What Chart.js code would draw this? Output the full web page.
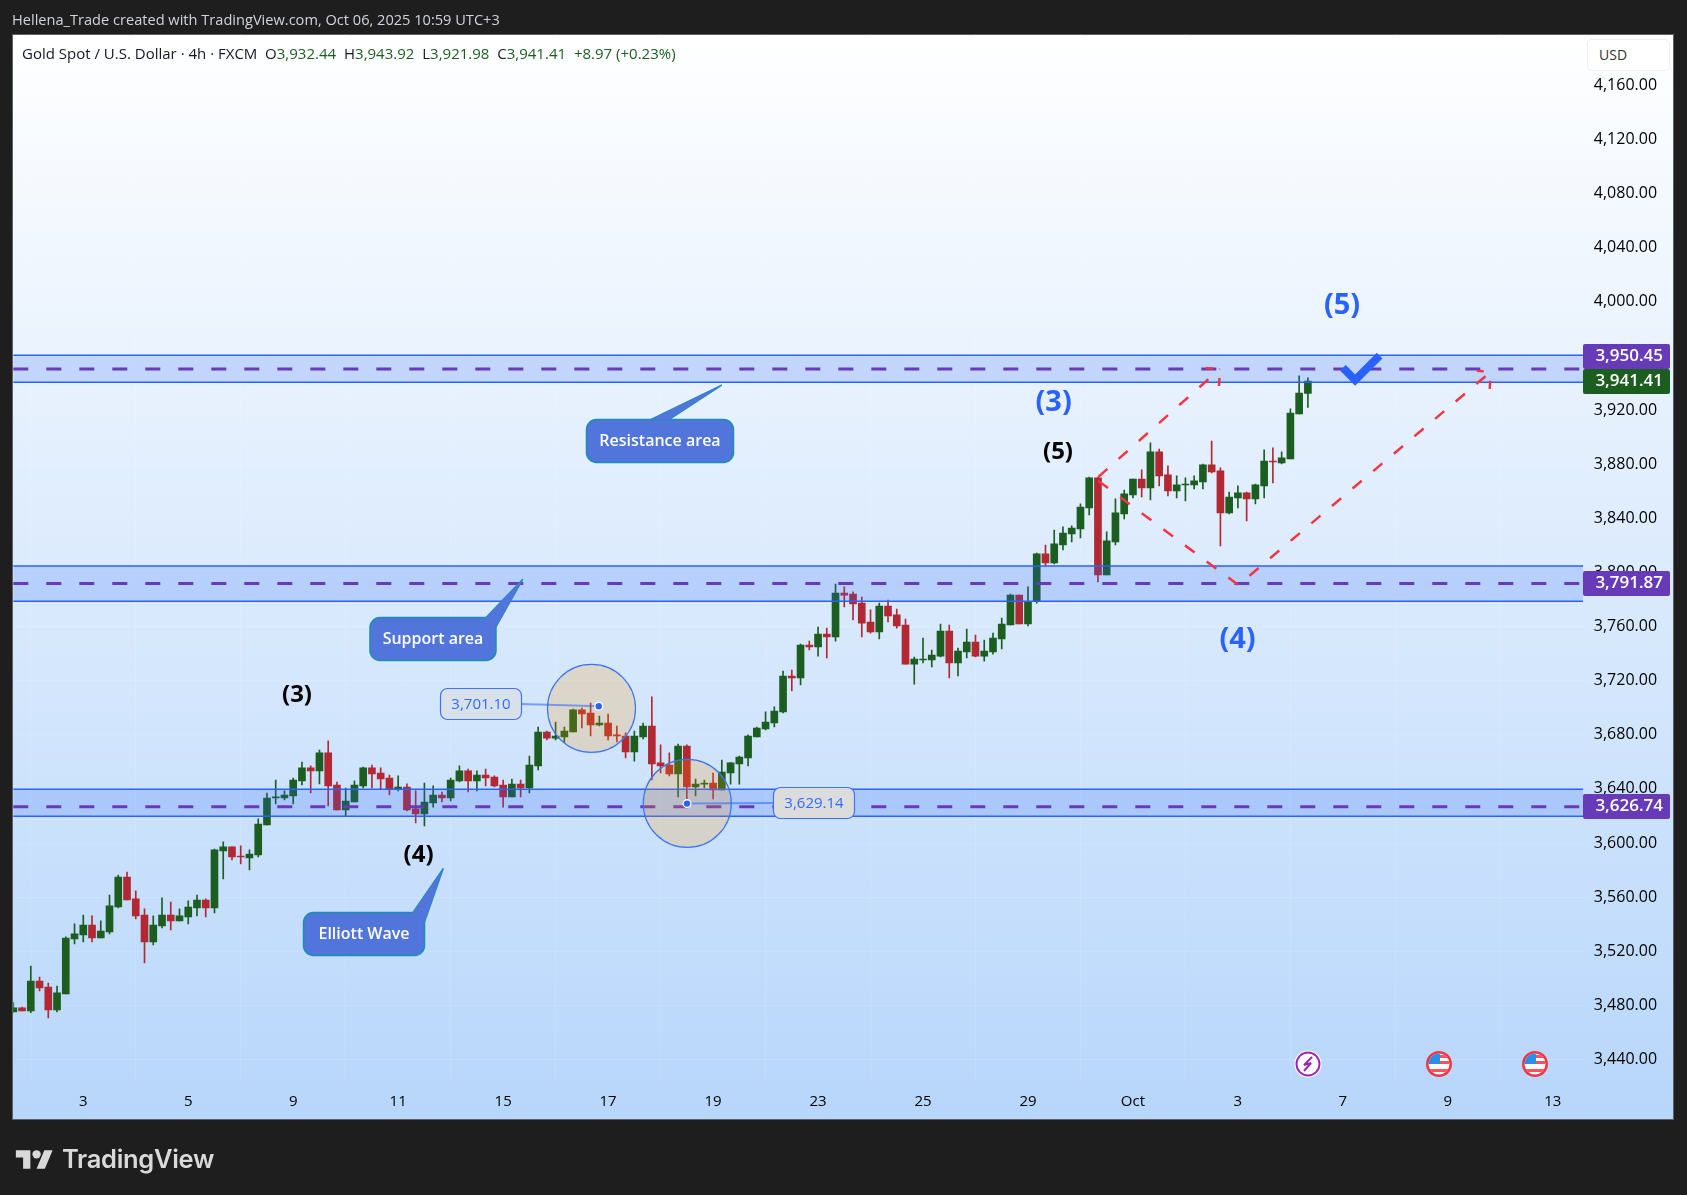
<!DOCTYPE html>
<html>
<head>
<meta charset="utf-8">
<title>Gold Spot / U.S. Dollar</title>
<script src="https://cdn.jsdelivr.net/npm/chart.js@4"></script>
<style>
  html, body { margin: 0; padding: 0; background: #1e1e1e; }
  #wrap { position: relative; width: 1687px; height: 1195px; overflow: hidden; }
  canvas { position: absolute; left: 0; top: 0; }
  .txt { position: absolute; white-space: nowrap; font-family: "Open Sans", sans-serif; }
  #credit { left: 12px; top: 9px; font-size: 14.6px; color: #d1d4dc; }
  #legend { left: 22px; top: 43px; font-size: 15px; color: #131722; }
  #legend b { font-weight: 400; color: #1b5e20; margin-right: 4px; }
  #usd { left: 1587px; top: 39px; width: 70px; height: 30px; line-height: 30px; padding-left: 11px; font-size: 14px; color: #333;
         background: #fff; border: 1px solid #eee; border-radius: 5px; }
  #logo { left: 15px; top: 1146px; }
  #brand { left: 62px; top: 1143px; font-family: Inter, sans-serif; font-weight: 600; font-size: 25.5px; letter-spacing: -0.3px; color: #d9d9d9; }
</style>
</head>
<body>
<div id="wrap">
  <canvas id="chart" width="1687" height="1195"></canvas>
  <div class="txt" id="credit">Hellena_Trade created with TradingView.com, Oct 06, 2025 10:59 UTC+3</div>
  <div class="txt" id="legend">Gold Spot / U.S. Dollar · 4h · FXCM &nbsp;O<b>3,932.44</b> H<b>3,943.92</b> L<b>3,921.98</b> C<b>3,941.41</b> <b>+8.97 (+0.23%)</b></div>
  <div class="txt" id="usd">USD</div>
  <svg class="txt" id="logo" width="39" height="29" viewBox="0 0 36 28" fill="#d9d9d9"><path d="M14 22H7V11H0V4h14v18zM28 22h-8l7.5-18h8L28 22z"/><circle cx="20" cy="8" r="4"/></svg>
  <div class="txt" id="brand">TradingView</div>
</div>
<script>
const candleOpen = [3475.1,3478.1,3475.9,3498.0,3493.6,3476.6,3488.4,3529.1,3532.0,3539.4,3529.8,3534.3,3552.7,3574.9,3558.7,3546.8,3526.9,3538.7,3546.8,3542.4,
  3545.3,3552.0,3557.9,3552.0,3594.1,3597.1,3590.4,3589.0,3591.2,3613.4,3633.3,3633.3,3634.8,3645.9,3655.5,3653.3,3666.6,3642.9,3624.4,3630.4,
  3642.2,3655.5,3651.8,3648.1,3640.0,3641.4,3625.2,3621.5,3629.6,3635.5,3633.3,3645.9,3653.3,3645.9,3650.3,3648.8,3642.9,3634.0,3643.6,3640.7,
  3657.0,3682.1,3677.6,3678.4,3682.1,3698.4,3696.1,3687.3,3688.7,3679.9,3679.1,3667.3,3678.4,3686.5,3659.2,3657.7,3651.0,3671.7,3641.4,3643.6,
  3644.4,3639.2,3651.8,3658.4,3662.9,3678.4,3684.3,3688.7,3696.9,3723.5,3722.0,3746.4,3744.9,3754.5,3752.3,3784.8,3784.1,3777.4,3763.4,3756.0,
  3775.2,3768.6,3761.2,3732.3,3735.3,3735.3,3738.2,3756.7,3733.1,3741.2,3748.6,3738.2,3741.2,3750.8,3761.2,3783.3,3761.9,3778.9,3813.7,3807.0,
  3820.3,3828.5,3832.2,3847.7,3869.9,3798.2,3822.6,3843.3,3857.3,3869.1,3862.5,3889.1,3872.1,3860.3,3864.7,3864.7,3866.9,3879.5,3875.1,3844.0,
  3855.1,3858.8,3854.4,3864.0,3882.4,3881.0,3883.9,3917.2,3932.44];
const candleHigh = [3482.0,3478.8,3509.1,3501.0,3496.5,3494.3,3530.6,3540.2,3546.8,3546.1,3542.4,3561.6,3576.4,3578.6,3564.6,3551.3,3546.1,3559.4,3556.4,3551.3,
  3557.2,3561.6,3558.7,3595.6,3600.8,3597.1,3597.9,3594.9,3617.8,3637.0,3646.6,3638.5,3648.1,3659.9,3657.0,3668.8,3675.5,3645.1,3640.7,3645.9,
  3656.2,3657.7,3655.5,3650.3,3649.6,3643.7,3638.5,3644.4,3642.2,3637.7,3648.1,3657.0,3654.7,3653.3,3654.7,3649.6,3646.6,3647.3,3646.6,3664.3,
  3685.8,3682.8,3689.5,3685.8,3699.1,3699.8,3703.5,3693.9,3695.4,3686.5,3681.4,3682.8,3688.7,3708.0,3672.5,3666.6,3673.2,3672.5,3647.3,3646.6,
  3651.8,3661.4,3659.7,3664.3,3679.9,3685.8,3696.9,3700.6,3727.2,3727.9,3747.1,3749.3,3759.7,3758.9,3791.5,3789.3,3785.6,3781.9,3772.3,3777.4,
  3779.6,3773.0,3765.6,3737.5,3751.5,3742.7,3761.9,3761.2,3744.2,3758.2,3753.8,3750.1,3755.2,3766.3,3784.1,3783.3,3789.3,3814.4,3820.3,3831.4,
  3833.7,3834.4,3850.7,3870.6,3870.6,3830.0,3854.4,3861.0,3869.1,3875.8,3895.8,3891.3,3878.8,3871.4,3869.9,3871.4,3880.2,3897.2,3877.3,3859.5,
  3864.0,3859.5,3865.4,3890.6,3892.1,3889.1,3920.9,3945.3,3943.92];
const candleLow = [3474.9,3475.9,3474.6,3490.6,3470.7,3475.1,3488.4,3525.4,3526.9,3526.9,3529.8,3532.8,3552.0,3557.9,3543.9,3511.3,3524.6,3537.2,3535.7,3542.4,
  3540.2,3546.1,3545.3,3548.3,3573.4,3587.5,3584.5,3580.1,3589.7,3613.4,3628.9,3631.9,3628.9,3642.9,3637.0,3643.7,3627.4,3624.4,3620.0,3630.4,
  3640.7,3640.7,3639.7,3635.5,3638.5,3623.7,3614.8,3612.6,3626.6,3630.3,3631.1,3645.1,3637.7,3638.5,3642.2,3641.4,3626.6,3634.0,3634.0,3637.0,
  3654.0,3676.2,3676.2,3674.7,3682.1,3685.0,3679.1,3686.5,3676.2,3674.7,3662.9,3660.6,3676.9,3646.6,3651.8,3649.6,3634.0,3629.6,3634.8,3640.7,
  3632.6,3639.2,3643.6,3643.6,3657.0,3678.4,3683.6,3685.8,3696.1,3712.4,3716.8,3742.7,3738.2,3736.8,3749.3,3774.5,3764.9,3752.3,3755.2,3750.8,
  3763.4,3758.9,3732.3,3717.5,3733.1,3730.1,3737.5,3722.0,3723.5,3736.8,3737.5,3734.5,3739.7,3743.4,3761.2,3761.9,3760.4,3777.4,3804.8,3806.3,
  3816.7,3822.6,3825.5,3842.5,3793.0,3798.2,3820.3,3839.6,3855.1,3855.8,3853.6,3864.0,3856.6,3855.1,3852.9,3861.7,3861.7,3873.6,3819.6,3843.3,
  3847.7,3838.1,3850.7,3855.1,3866.2,3880.2,3883.9,3917.2,3921.98];
const candleClose = [3478.1,3475.9,3498.0,3492.9,3476.6,3489.2,3529.8,3532.8,3539.4,3529.8,3535.0,3553.5,3574.9,3557.9,3546.1,3526.9,3539.4,3546.8,3542.4,3546.1,
  3552.7,3557.9,3552.0,3594.9,3597.1,3589.7,3589.7,3591.9,3614.1,3633.3,3634.1,3635.5,3646.6,3655.5,3653.3,3666.6,3642.2,3624.4,3631.1,3642.9,
  3655.5,3651.1,3647.4,3640.0,3641.4,3624.4,3621.5,3630.3,3635.5,3633.3,3646.6,3653.3,3645.9,3650.3,3648.1,3642.2,3634.0,3643.6,3640.7,3657.7,
  3682.1,3677.6,3679.1,3682.8,3698.4,3695.4,3687.3,3688.7,3679.1,3679.1,3667.3,3679.1,3686.5,3658.4,3657.0,3651.0,3671.7,3641.4,3643.6,3644.4,
  3639.2,3652.5,3659.2,3663.6,3679.1,3685.0,3689.5,3697.6,3723.5,3722.0,3746.4,3744.9,3754.5,3752.3,3784.8,3783.3,3776.7,3762.6,3756.0,3775.2,
  3767.8,3760.4,3732.3,3736.0,3736.0,3739.0,3756.7,3733.1,3741.9,3748.6,3738.2,3741.9,3751.5,3761.9,3783.3,3761.9,3778.2,3813.7,3807.0,3821.1,
  3829.2,3832.9,3848.4,3869.9,3798.2,3823.3,3844.0,3858.1,3869.1,3862.5,3889.1,3871.4,3860.3,3864.7,3865.4,3867.7,3879.5,3874.3,3844.0,3855.8,
  3858.8,3854.4,3864.7,3882.4,3881.7,3884.7,3917.9,3932.7,3941.41];

// 4h slots on the time axis, the chart runs on past the last candle
const slots = Array.from({ length: 181 }, (_, i) => i);
const dayTickSlots = [8, 20, 32, 44, 56, 68, 80, 92, 104, 116, 128, 140, 152, 164, 176];
const dayTickLabels = ['3', '5', '9', '11', '15', '17', '19', '23', '25', '29', 'Oct', '3', '7', '9', '13'];
const priceTicks = [4160, 4120, 4080, 4040, 4000, 3960, 3920, 3880, 3840, 3800, 3760, 3720, 3680, 3640, 3600, 3560, 3520, 3480, 3440];

const zoneTops = [3960.55, 3804.75, 3639.75];
const zoneBottoms = [3940.55, 3778.65, 3619.75];
const zoneLevels = [3950.45, 3791.87, 3626.74];

const GREEN = '#1b5e20';
const RED = '#b22833';
const BLUE = '#2962ff';
const PURPLE = '#673ab7';

const fmt = v => v.toLocaleString('en-US', { minimumFractionDigits: 2, maximumFractionDigits: 2 });
const candleColor = ctx => candleClose[ctx.dataIndex] >= candleOpen[ctx.dataIndex] ? GREEN : RED;

function roundBox(c, x, y, w, h, r) {
  c.beginPath();
  c.roundRect(x, y, w, h, r);
}

function drawFlag(c, cx, cy) {
  c.save();
  c.beginPath(); c.arc(cx, cy, 13, 0, Math.PI * 2); c.fillStyle = '#f23645'; c.fill();
  c.beginPath(); c.arc(cx, cy, 10.5, 0, Math.PI * 2); c.fillStyle = '#fff'; c.fill(); c.clip();
  c.fillStyle = '#f7525f';
  c.fillRect(cx - 11, cy - 3, 22, 3);
  c.fillRect(cx - 11, cy + 5, 22, 3);
  c.fillRect(cx + 1, cy - 9, 11, 3);
  c.fillStyle = '#2a8fe8';
  c.fillRect(cx - 11, cy - 11, 12, 11);
  c.restore();
}

function drawFlash(c, cx, cy) {
  c.beginPath(); c.arc(cx, cy, 13.5, 0, Math.PI * 2); c.fillStyle = '#fff'; c.fill();
  c.beginPath(); c.arc(cx, cy, 11.5, 0, Math.PI * 2); c.strokeStyle = '#9c27b0'; c.lineWidth = 2; c.stroke();
  c.beginPath();
  c.moveTo(cx + 4, cy - 7); c.lineTo(cx - 4, cy + 1); c.lineTo(cx + 3, cy - 1); c.lineTo(cx - 4, cy + 7);
  c.strokeStyle = '#9c27b0'; c.lineWidth = 2; c.stroke();
}

const panelPlugin = {
  id: 'panel',
  beforeDraw(chart) {
    const c = chart.ctx;
    const g = c.createLinearGradient(0, 34, 0, 1119);
    g.addColorStop(0, '#ffffff');
    g.addColorStop(1, '#b7d6fb');
    c.fillStyle = '#1e1e1e';
    c.fillRect(0, 0, 1687, 1195);
    c.fillStyle = g;
    c.fillRect(13, 34, 1660, 1086);
    c.strokeStyle = '#5d6167';
    c.lineWidth = 1;
    c.strokeRect(12.5, 34.5, 1661, 1085);
  }
};

const drawingsPlugin = {
  id: 'drawings',
  afterDatasetsDraw(chart) {
    const c = chart.ctx;
    const X = v => chart.scales.x.getPixelForValue(v);
    const Y = v => chart.scales.y.getPixelForValue(v);
    const zoneEnd = X(179.46);
    c.save();

    // support / resistance zones over the candles
    zoneLevels.forEach((lvl, i) => {
      const top = Y(zoneTops[i]), bot = Y(zoneBottoms[i]);
      c.fillStyle = 'rgba(41,98,255,0.2)';
      c.fillRect(X(0), top, zoneEnd - X(0), bot - top);
      c.strokeStyle = BLUE;
      c.lineWidth = 1.5;
      c.beginPath();
      c.moveTo(X(0), top); c.lineTo(zoneEnd, top);
      c.moveTo(X(0), bot); c.lineTo(zoneEnd, bot);
      c.stroke();
      c.strokeStyle = PURPLE;
      c.lineWidth = 3;
      c.setLineDash([15, 18]);
      c.beginPath();
      c.moveTo(X(0), Y(lvl)); c.lineTo(zoneEnd - 3, Y(lvl));
      c.stroke();
      c.setLineDash([]);
    });

    // circles round the swing high and low
    [[66.1, 3699.5], [77.05, 3629.3]].forEach(([i, p]) => {
      c.beginPath();
      c.arc(X(i), Y(p), 44, 0, Math.PI * 2);
      c.fillStyle = 'rgba(255,152,0,0.2)';
      c.fill();
      c.strokeStyle = '#3f74f0';
      c.lineWidth = 1.2;
      c.stroke();
    });

    // price notes
    [
      { i: 66.93, price: 3701.10, x: 440.5, y: 688.5, w: 81, h: 31, side: 'left' },
      { i: 77.02, price: 3629.14, x: 773.5, y: 787.5, w: 81, h: 31, side: 'right' }
    ].forEach(n => {
      const dx = X(n.i), dy = Y(n.price);
      c.strokeStyle = 'rgba(41,98,255,0.55)';
      c.lineWidth = 2;
      c.beginPath();
      c.moveTo(dx, dy);
      c.lineTo(n.side === 'left' ? n.x + n.w : n.x, n.y + n.h / 2);
      c.stroke();
      roundBox(c, n.x, n.y, n.w, n.h, 7);
      c.fillStyle = '#dcdcdc';
      c.globalAlpha = n.side === 'left' ? 0.6 : 1;
      c.fill();
      c.globalAlpha = 1;
      c.strokeStyle = '#3f74f0';
      c.lineWidth = 1.2;
      c.stroke();
      c.fillStyle = '#2f6bff';
      c.font = '15px "Open Sans"';
      c.textAlign = 'center';
      c.textBaseline = 'middle';
      c.fillText(fmt(n.price), n.x + n.w / 2, n.y + n.h / 2 + 1);
      c.beginPath(); c.arc(dx, dy, 4.5, 0, Math.PI * 2); c.fillStyle = '#fff'; c.fill();
      c.beginPath(); c.arc(dx, dy, 3.2, 0, Math.PI * 2); c.fillStyle = BLUE; c.fill();
    });

    // red zigzag of the wave count, with open arrow heads
    c.strokeStyle = '#f23645';
    c.lineWidth = 2.5;
    c.setLineDash([12, 15]);
    c.beginPath(); c.moveTo(X(124.05), Y(3870.7)); c.lineTo(X(137.95), Y(3950.4)); c.stroke();
    c.beginPath(); c.moveTo(X(124.05), Y(3867.7)); c.lineTo(X(140.05), Y(3790.7)); c.lineTo(X(168.9), Y(3948.3)); c.stroke();
    c.setLineDash([]);
    [[137.95, 3950.4], [168.9, 3948.3]].forEach(([i, p]) => {
      const tx = X(i), ty = Y(p);
      c.beginPath();
      c.moveTo(tx - 14, ty - 1); c.lineTo(tx - 7, ty - 0.5);
      c.moveTo(tx - 0.5, ty + 9); c.lineTo(tx - 1, ty + 17);
      c.stroke();
    });

    // check mark at the target
    c.strokeStyle = BLUE;
    c.lineWidth = 8;
    c.lineJoin = 'miter';
    c.beginPath();
    c.moveTo(X(152), Y(3951.3)); c.lineTo(X(153.4), Y(3942.2)); c.lineTo(X(156.2), Y(3960.3));
    c.stroke();

    // blue callouts
    c.lineJoin = 'bevel';
    [
      { text: 'Resistance area', x: 586.5, y: 419.5, w: 147, h: 43, a: [651, 419.5], b: [669, 419.5], i: 80.99, p: 3938.5 },
      { text: 'Support area', x: 370, y: 617.5, w: 126, h: 43, a: [486, 617.5], b: [496, 627], i: 58.24, p: 3795.0 },
      { text: 'Elliott Wave', x: 303.5, y: 912.5, w: 121, h: 43, a: [413, 912.5], b: [424.5, 922], i: 49.16, p: 3581.3 }
    ].forEach(n => {
      roundBox(c, n.x, n.y, n.w, n.h, 10);
      c.fillStyle = '#5175db';
      c.fill();
      c.strokeStyle = '#1a8fb5';
      c.lineWidth = 1.5;
      c.stroke();
      c.beginPath();
      c.moveTo(n.a[0], n.a[1]); c.lineTo(X(n.i), Y(n.p)); c.lineTo(n.b[0], n.b[1]);
      c.stroke();
      c.closePath();
      c.fill();
      c.fillStyle = '#fff';
      c.font = '600 16px "Open Sans"';
      c.textAlign = 'center';
      c.textBaseline = 'middle';
      c.fillText(n.text, n.x + n.w / 2, n.y + n.h / 2 + 0.5);
    });

    // wave count labels
    [
      ['(3)', 297, 695, '#000', 24], ['(4)', 418.6, 855, '#000', 24], ['(5)', 1058, 452, '#000', 24],
      ['(3)', 1053.6, 403, BLUE, 29], ['(5)', 1342, 306, BLUE, 29], ['(4)', 1237.5, 640, BLUE, 29]
    ].forEach(([t, x, y, col, size]) => {
      c.fillStyle = col;
      c.font = '700 ' + size + 'px "Open Sans"';
      c.textAlign = 'center';
      c.textBaseline = 'middle';
      c.fillText(t, x, y);
    });

    // event icons on the time line
    drawFlash(c, 1308, 1064);
    drawFlag(c, 1439, 1064);
    drawFlag(c, 1535, 1064);

    // price labels over the axis
    [
      { v: 3950.45, bg: PURPLE, top: 344 }, { v: 3941.41, bg: GREEN, top: 369 },
      { v: 3791.87, bg: PURPLE, top: 571 }, { v: 3626.74, bg: PURPLE, top: 794 }
    ].forEach(l => {
      roundBox(c, 1583, l.top, 87, 25, 2);
      c.fillStyle = l.bg;
      c.fill();
      c.fillStyle = '#fff';
      c.font = '600 17px "Open Sans"';
      c.textAlign = 'right';
      c.textBaseline = 'middle';
      c.fillText(fmt(l.v), 1663, l.top + 12.5);
    });
    c.restore();
  }
};

new Chart(document.getElementById('chart'), {
  type: 'bar',
  data: {
    labels: slots,
    datasets: [
      {
        label: 'Wick',
        data: candleLow.map((l, i) => [l, candleHigh[i]]),
        backgroundColor: candleColor,
        barThickness: 1,
        grouped: false
      },
      {
        label: 'Body',
        data: candleOpen.map((o, i) => [o, candleClose[i]]),
        backgroundColor: candleColor,
        barThickness: 7,
        grouped: false
      }
    ]
  },
  options: {
    responsive: false,
    animation: false,
    devicePixelRatio: 1,
    events: [],
    layout: { padding: { left: 13.3, right: 14, top: 34, bottom: 76 } },
    plugins: { legend: { display: false }, tooltip: { enabled: false } },
    scales: {
      x: {
        type: 'category',
        offset: false,
        grid: { color: 'rgba(255,255,255,0.12)', drawTicks: false, drawOnChartArea: true },
        border: { display: false },
        afterBuildTicks: s => { s.ticks = dayTickSlots.map(value => ({ value })); },
        afterFit: s => { s.height = 37; },
        ticks: {
          autoSkip: false,
          maxRotation: 0,
          padding: 11,
          color: '#000',
          font: { family: '"Open Sans"', size: 15 },
          callback: v => dayTickLabels[dayTickSlots.indexOf(v)]
        }
      },
      y: {
        position: 'right',
        min: 3423.35,
        max: 4198.05,
        grid: { color: 'rgba(255,255,255,0.12)', drawTicks: false },
        border: { display: false },
        afterBuildTicks: s => { s.ticks = priceTicks.map(value => ({ value })); },
        afterFit: s => { s.width = 85.2; },
        ticks: {
          padding: 6,
          color: '#000',
          font: { family: '"Open Sans"', size: 16, weight: '500' },
          callback: v => fmt(v)
        }
      }
    }
  },
  plugins: [panelPlugin, drawingsPlugin]
});
</script>
</body>
</html>
